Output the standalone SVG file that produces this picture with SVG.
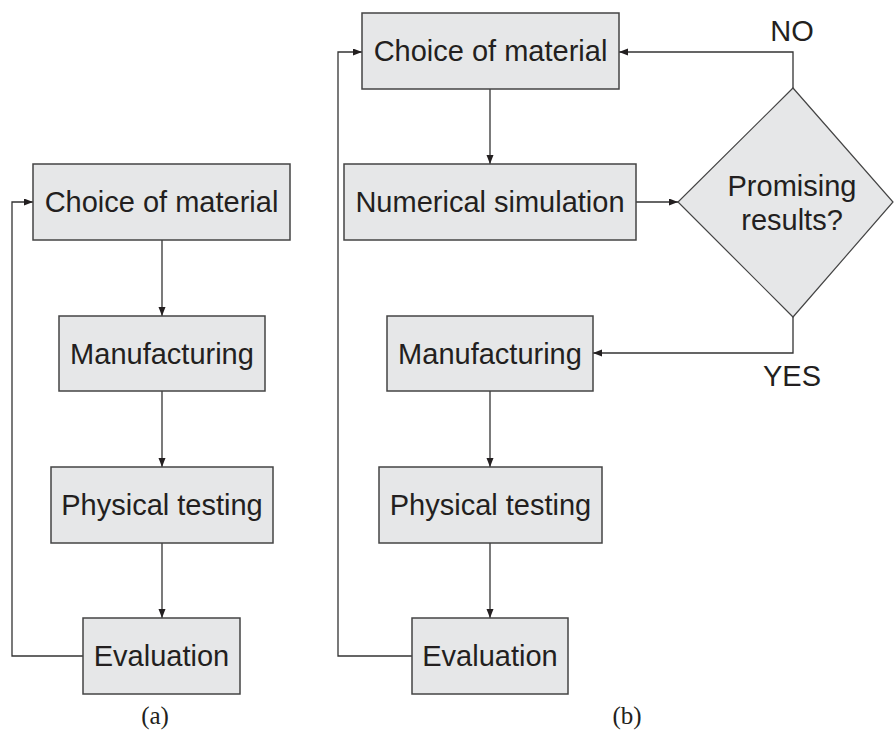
<svg xmlns="http://www.w3.org/2000/svg" width="894" height="731" viewBox="0 0 894 731">
  <style>
    .box { fill: #e6e7e8; stroke: #444; stroke-width: 1.5; }
    .lbl { font-family: "Liberation Sans", Arial, sans-serif; font-size: 29px; fill: #231f20; text-anchor: middle; }
    .cap { font-family: "Liberation Serif", "Times New Roman", serif; font-size: 25px; fill: #231f20; text-anchor: middle; }
    .con { fill: none; stroke: #333; stroke-width: 1.3; }
  </style>
  <defs>
    <marker id="ah" markerUnits="userSpaceOnUse" markerWidth="10" markerHeight="8" refX="9" refY="3.5" orient="auto">
      <path d="M0,0 L9,3.5 L0,7 z" fill="#231f20"/>
    </marker>
  </defs>
  <rect width="894" height="731" fill="#ffffff"/>

  <g id="connectors">
    <!-- panel a -->
    <path class="con" d="M162,240 V316" marker-end="url(#ah)"/>
    <path class="con" d="M162,391 V467" marker-end="url(#ah)"/>
    <path class="con" d="M162,543 V618" marker-end="url(#ah)"/>
    <path class="con" d="M83,656 H12 V202 H33" marker-end="url(#ah)"/>
    <!-- panel b -->
    <path class="con" d="M490,89 V164" marker-end="url(#ah)"/>
    <path class="con" d="M636,202 H678" marker-end="url(#ah)"/>
    <path class="con" d="M793,88 V52 H619" marker-end="url(#ah)"/>
    <path class="con" d="M793,317 V353 H593" marker-end="url(#ah)"/>
    <path class="con" d="M490,391 V467" marker-end="url(#ah)"/>
    <path class="con" d="M490,543 V618" marker-end="url(#ah)"/>
    <path class="con" d="M412,656 H338 V52 H362" marker-end="url(#ah)"/>
  </g>

  <g id="a-choice">
    <rect class="box" x="33" y="164" width="257" height="76"/>
    <text class="lbl" x="161.5" y="212">Choice of material</text>
  </g>
  <g id="a-manufacturing">
    <rect class="box" x="59" y="316" width="206" height="75"/>
    <text class="lbl" x="162" y="364">Manufacturing</text>
  </g>
  <g id="a-physical">
    <rect class="box" x="51" y="467" width="222" height="76"/>
    <text class="lbl" x="162" y="515">Physical testing</text>
  </g>
  <g id="a-evaluation">
    <rect class="box" x="83" y="618" width="157" height="76"/>
    <text class="lbl" x="161.5" y="666">Evaluation</text>
  </g>

  <g id="b-choice">
    <rect class="box" x="362" y="13" width="257" height="76"/>
    <text class="lbl" x="490.5" y="61">Choice of material</text>
  </g>
  <g id="b-numerical">
    <rect class="box" x="344" y="164" width="292" height="76"/>
    <text class="lbl" x="490" y="212">Numerical simulation</text>
  </g>
  <g id="b-decision">
    <polygon class="box" points="793,88 893,202 793,317 678,202" style="stroke-width:1.2"/>
    <text class="lbl" x="792" y="196">Promising</text>
    <text class="lbl" x="792" y="230">results?</text>
  </g>
  <g id="b-manufacturing">
    <rect class="box" x="387" y="316" width="206" height="75"/>
    <text class="lbl" x="490" y="364">Manufacturing</text>
  </g>
  <g id="b-physical">
    <rect class="box" x="379" y="467" width="223" height="76"/>
    <text class="lbl" x="490.5" y="515">Physical testing</text>
  </g>
  <g id="b-evaluation">
    <rect class="box" x="412" y="618" width="156" height="76"/>
    <text class="lbl" x="490" y="666">Evaluation</text>
  </g>

  <g id="edge-labels">
    <text class="lbl" x="792" y="41">NO</text>
    <text class="lbl" x="792" y="386">YES</text>
  </g>
  <g id="captions">
    <text class="cap" x="155" y="724">(a)</text>
    <text class="cap" x="627" y="724">(b)</text>
  </g>
</svg>
